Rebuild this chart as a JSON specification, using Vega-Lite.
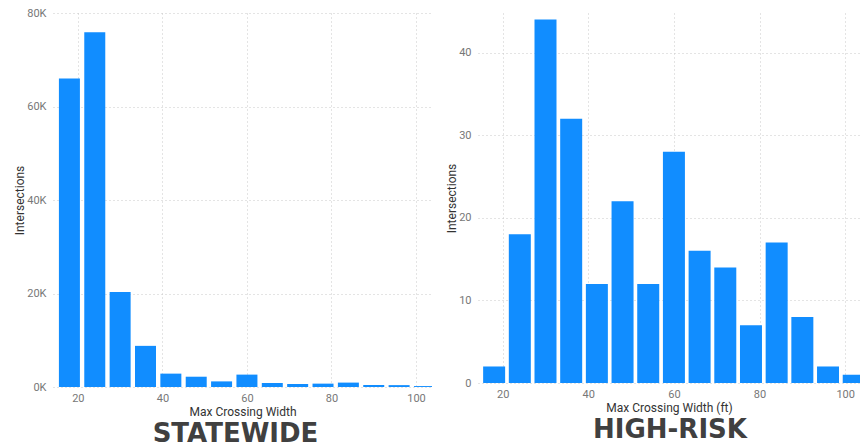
{
  "$schema": "https://vega.github.io/schema/vega-lite/v6.json",
  "padding": {"left": 13, "top": 7, "right": 0, "bottom": 0},
  "bounds": "flush",
  "spacing": 46,
  "background": "white",
  "datasets": {
    "statewide": [
      {"width": 18, "count": 66000},
      {"width": 24, "count": 75900},
      {"width": 30, "count": 20300},
      {"width": 36, "count": 8800},
      {"width": 42, "count": 2860},
      {"width": 48, "count": 2200},
      {"width": 54, "count": 1200},
      {"width": 60, "count": 2650},
      {"width": 66, "count": 860},
      {"width": 72, "count": 640},
      {"width": 78, "count": 720},
      {"width": 84, "count": 940},
      {"width": 90, "count": 430},
      {"width": 96, "count": 400},
      {"width": 102, "count": 200}
    ],
    "highrisk": [
      {"width": 18, "count": 2},
      {"width": 24, "count": 18},
      {"width": 30, "count": 44},
      {"width": 36, "count": 32},
      {"width": 42, "count": 12},
      {"width": 48, "count": 22},
      {"width": 54, "count": 12},
      {"width": 60, "count": 28},
      {"width": 66, "count": 16},
      {"width": 72, "count": 14},
      {"width": 78, "count": 7},
      {"width": 84, "count": 17},
      {"width": 90, "count": 8},
      {"width": 96, "count": 2},
      {"width": 102, "count": 1}
    ]
  },
  "config": {
    "view": {"stroke": null},
    "axis": {
      "domain": false,
      "ticks": false,
      "grid": true,
      "gridDash": [1, 3],
      "gridColor": "#c8c8c8",
      "labelFont": "Roboto",
      "labelFontSize": 11,
      "labelColor": "#777777",
      "titleFont": "Roboto",
      "titleFontSize": 12,
      "titleFontWeight": "normal",
      "titleColor": "#333333",
      "labelPadding": 7
    },
    "axisX": {"labelPadding": 5, "titlePadding": 3},
    "axisY": {"titlePadding": 0},
    "title": {
      "font": "DejaVu Sans",
      "fontSize": 26,
      "fontWeight": "bold",
      "color": "#404040",
      "orient": "bottom",
      "anchor": "middle",
      "offset": 4
    }
  },
  "hconcat": [
    {
      "width": 379,
      "height": 374,
      "data": {"name": "statewide"},
      "title": {"text": "STATEWIDE", "dx": -7},
      "mark": {"type": "bar", "size": 21, "color": "#118DFF", "clip": true},
      "encoding": {
        "x": {
          "field": "width",
          "type": "quantitative",
          "scale": {"domain": [15.3, 102.6], "nice": false, "zero": false},
          "axis": {"values": [20, 40, 60, 80, 100], "title": "Max Crossing Width"}
        },
        "y": {
          "field": "count",
          "type": "quantitative",
          "scale": {"domain": [0, 80000], "nice": false},
          "axis": {
            "values": [0, 20000, 40000, 60000, 80000],
            "labelExpr": "datum.value / 1000 + 'K'",
            "title": "Intersections"
          }
        }
      }
    },
    {
      "width": 382,
      "height": 370,
      "data": {"name": "highrisk"},
      "title": {"text": "HIGH-RISK", "dx": 1},
      "mark": {"type": "bar", "size": 22, "color": "#118DFF", "clip": true},
      "encoding": {
        "x": {
          "field": "width",
          "type": "quantitative",
          "scale": {"domain": [15.4, 102.3], "nice": false, "zero": false},
          "axis": {"values": [20, 40, 60, 80, 100], "title": "Max Crossing Width (ft)"}
        },
        "y": {
          "field": "count",
          "type": "quantitative",
          "scale": {"domain": [0, 44.8], "nice": false},
          "axis": {"values": [0, 10, 20, 30, 40], "title": "Intersections"}
        }
      }
    }
  ]
}
